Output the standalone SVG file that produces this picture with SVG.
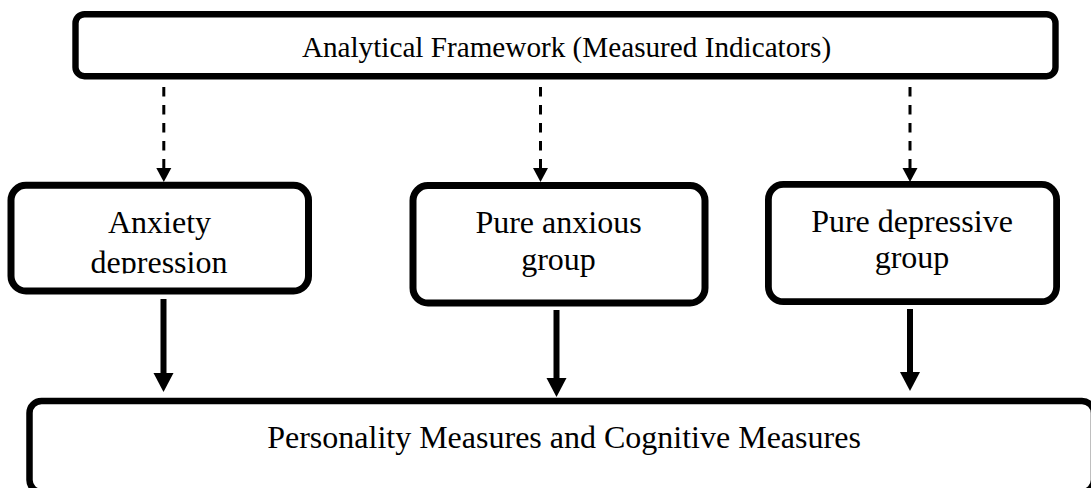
<svg xmlns="http://www.w3.org/2000/svg" width="1091" height="488" viewBox="0 0 1091 488">
  <style>
    .box { fill: #ffffff; stroke: #000000; }
    .lbl { font-family: "Liberation Serif", "Times New Roman", serif; fill: #000000; text-anchor: middle; }
    .solid { stroke: #000000; stroke-width: 6; fill: none; }
    .dash { stroke: #000000; stroke-width: 3; fill: none; stroke-dasharray: 9.5 8.5; }
  </style>
  <defs>
    <marker id="headSolid" markerUnits="userSpaceOnUse" markerWidth="19" markerHeight="20" viewBox="0 -10 19 20" refX="0.5" refY="0" orient="auto" overflow="visible">
      <path d="M0,-10 L19,0 L0,10 Z" fill="#000000"/>
    </marker>
    <marker id="headDash" markerUnits="userSpaceOnUse" markerWidth="14" markerHeight="15" viewBox="0 -7.5 14 15" refX="0.5" refY="0" orient="auto" overflow="visible">
      <path d="M0,-7.5 L14,0 L0,7.5 Z" fill="#000000"/>
    </marker>
    <clipPath id="clipAnx">
      <rect x="0" y="0" width="330" height="273.5"/>
    </clipPath>
  </defs>
  <rect x="0" y="0" width="1091" height="488" fill="#ffffff"/>

  <g id="node-framework">
    <rect class="box" x="75.5" y="14.2" width="980" height="62" rx="9" stroke-width="6.4"/>
    <text class="lbl" x="566.5" y="57" font-size="29.2">Analytical Framework (Measured Indicators)</text>
  </g>

  <g id="node-anxiety-depression">
    <rect class="box" x="11" y="185.3" width="297.5" height="105.7" rx="15" stroke-width="7"/>
    <g clip-path="url(#clipAnx)">
      <text class="lbl" x="159.5" y="233.3" font-size="32">Anxiety</text>
      <text class="lbl" x="159" y="272.5" font-size="32">depression</text>
    </g>
  </g>

  <g id="node-pure-anxious">
    <rect class="box" x="413" y="185.6" width="292" height="117.4" rx="15" stroke-width="7"/>
    <text class="lbl" x="558.5" y="233.3" font-size="32">Pure anxious</text>
    <text class="lbl" x="558.5" y="269.8" font-size="32">group</text>
  </g>

  <g id="node-pure-depressive">
    <rect class="box" x="768.4" y="184.4" width="288.2" height="117.3" rx="15" stroke-width="6.8"/>
    <text class="lbl" x="912" y="231.7" font-size="32">Pure depressive</text>
    <text class="lbl" x="912" y="268" font-size="32">group</text>
  </g>

  <g id="node-measures">
    <rect class="box" x="29.5" y="401" width="1064.5" height="91" rx="12" stroke-width="6.5"/>
    <text class="lbl" x="564" y="447.7" font-size="32">Personality Measures and Cognitive Measures</text>
  </g>

  <g id="connectors">
    <line class="dash" x1="163.8" y1="87" x2="163.8" y2="168.5" marker-end="url(#headDash)"/>
    <line class="dash" x1="540.5" y1="87" x2="540.5" y2="168.5" marker-end="url(#headDash)"/>
    <line class="dash" x1="910" y1="87" x2="910" y2="168.5" marker-end="url(#headDash)"/>
    <line class="solid" x1="163.5" y1="299" x2="163.5" y2="373.5" marker-end="url(#headSolid)"/>
    <line class="solid" x1="556.5" y1="310" x2="556.5" y2="378.5" marker-end="url(#headSolid)"/>
    <line class="solid" x1="910" y1="309" x2="910" y2="372.5" marker-end="url(#headSolid)"/>
  </g>
</svg>
